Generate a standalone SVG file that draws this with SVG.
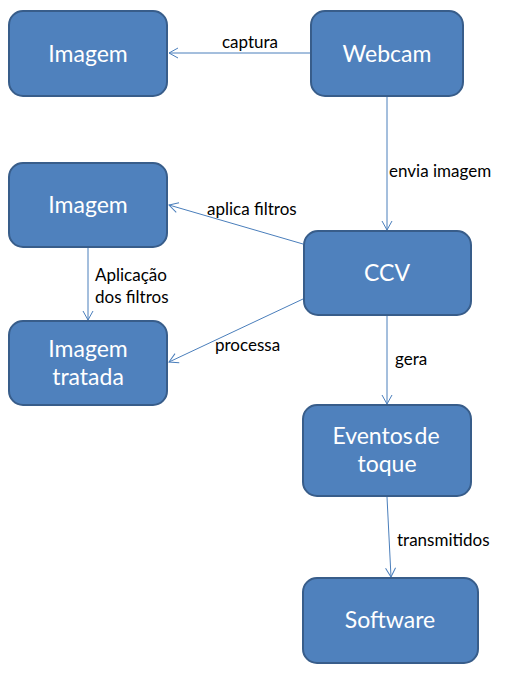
<svg xmlns="http://www.w3.org/2000/svg" width="515" height="678" viewBox="0 0 515 678">
<defs>
<marker id="arr" markerWidth="12" markerHeight="12" refX="10" refY="6" orient="auto" markerUnits="userSpaceOnUse">
<path d="M1,1 L10,6 L1,11" fill="none" stroke="#4A7EBB" stroke-width="1"/>
</marker>
</defs>
<style>
.node rect{fill:#4F81BD;stroke:#385D8A;stroke-width:2}
.node text{fill:#fff;font-family:Lato,"Open Sans",sans-serif;font-size:23px;text-anchor:middle}
.edge{stroke:#4A7EBB;stroke-width:1;fill:none;marker-end:url(#arr)}
.lbl{fill:#000;font-family:Lato,"Liberation Sans",sans-serif;font-size:17px}
</style>
<rect width="515" height="678" fill="#fff"/>
<g id="connectors">
<line class="edge" x1="310" y1="53" x2="169" y2="53"/>
<line class="edge" x1="387" y1="97" x2="387" y2="230"/>
<line class="edge" x1="303" y1="244" x2="169" y2="205"/>
<line class="edge" x1="88" y1="248" x2="88" y2="320"/>
<line class="edge" x1="303" y1="299" x2="169" y2="362"/>
<line class="edge" x1="387" y1="316" x2="387" y2="404"/>
<line class="edge" x1="387" y1="497" x2="391" y2="577"/>
<text class="lbl" x="222" y="48">captura</text>
<text class="lbl" x="389" y="177">envia imagem</text>
<text class="lbl" x="207" y="215">aplica filtros</text>
<text class="lbl" x="95" y="281">Aplicação</text>
<text class="lbl" x="95" y="303">dos filtros</text>
<text class="lbl" x="215" y="351">processa</text>
<text class="lbl" x="395" y="365">gera</text>
<text class="lbl" x="397" y="546">transmitidos</text>
</g>
<g id="imagem1" class="node"><rect x="9" y="11" width="158" height="85" rx="14"/><text x="88" y="62">Imagem</text></g>
<g id="webcam" class="node"><rect x="311" y="11" width="152" height="85" rx="14"/><text x="387" y="62">Webcam</text></g>
<g id="imagem2" class="node"><rect x="9" y="163" width="158" height="84" rx="14"/><text x="88" y="213">Imagem</text></g>
<g id="ccv" class="node"><rect x="304" y="231" width="167" height="84" rx="14"/><text x="387" y="281">CCV</text></g>
<g id="imagemTratada" class="node"><rect x="9" y="321" width="158" height="84" rx="14"/><text x="88" y="357">Imagem</text><text x="88" y="385">tratada</text></g>
<g id="eventos" class="node"><rect x="303" y="405" width="168" height="91" rx="14"/><text x="386" y="444" word-spacing="-4">Eventos de</text><text x="387" y="472">toque</text></g>
<g id="software" class="node"><rect x="303" y="578" width="175" height="85" rx="14"/><text x="390" y="628">Software</text></g>
</svg>
